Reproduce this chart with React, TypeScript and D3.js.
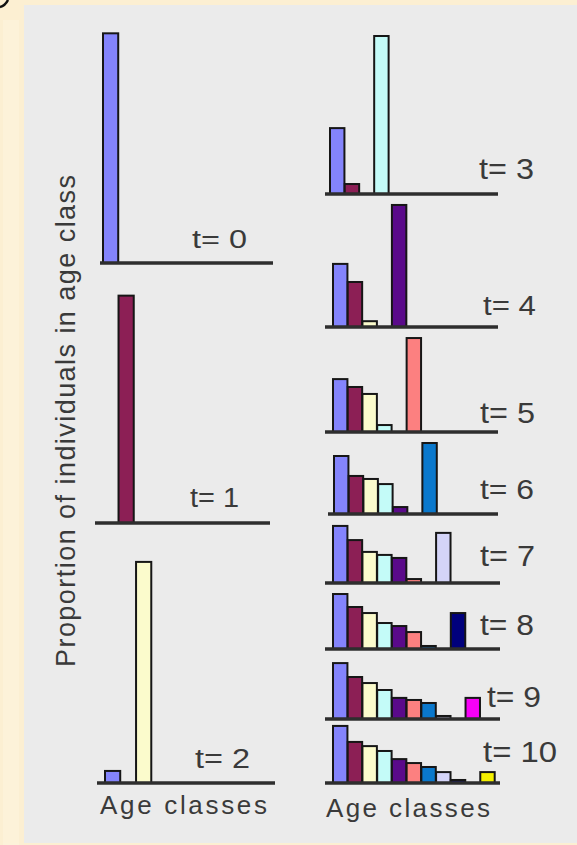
import * as d3 from "d3";

// Excel-style fill colours, one per age class (0..10)
const classColors = [
  "#8484fc", "#8c1f55", "#fbfbcc", "#c4fbf8", "#5a0a8a", "#fc8080",
  "#0a78cc", "#d4d4f8", "#00007c", "#f800f8", "#f4f000",
];

// proportion of individuals in each age class, per time step
const t0 = [0.99];
const t1 = [0, 0.98];
const t2 = [0.052, 0, 0.953];
const t3 = [0.284, 0.043, 0, 0.681];
const t4 = [0.272, 0.194, 0.025, 0, 0.526];
const t5 = [0.228, 0.194, 0.164, 0.03, 0, 0.405];
const t6 = [0.25, 0.164, 0.151, 0.129, 0.03, 0, 0.306];
const t7 = [0.246, 0.185, 0.134, 0.121, 0.108, 0.017, 0, 0.216];
const t8 = [0.237, 0.181, 0.155, 0.112, 0.099, 0.073, 0.013, 0, 0.155];
const t9 = [0.241, 0.181, 0.155, 0.125, 0.091, 0.082, 0.069, 0.013, 0, 0.091];
const t10 = [0.246, 0.177, 0.159, 0.138, 0.103, 0.086, 0.069, 0.047, 0.013, 0, 0.047];

const steps = [t0, t1, t2, t3, t4, t5, t6, t7, t8, t9, t10];
const stepLabels = steps.map((_, i) => `t= ${i}`);

const yTitle = "Proportion of individuals in age class";
const xTitle = "Age classes";

// where each small panel sits on the page
const panels = [
  { base: 263, x0: 103, step: 15.5, l1: 100, l2: 273, lx: 192, ly: 248, lw: 55, fs: 26 },
  { base: 523, x0: 103, step: 15.5, l1: 95, l2: 270, lx: 190, ly: 507, lw: 49, fs: 27 },
  { base: 783, x0: 105, step: 15.5, l1: 97, l2: 275, lx: 195, ly: 768, lw: 55, fs: 27 },
  { base: 194, x0: 330, step: 14.7, l1: 325, l2: 498, lx: 479, ly: 179, lw: 55, fs: 29 },
  { base: 327, x0: 333, step: 14.7, l1: 325, l2: 498, lx: 483, ly: 315, lw: 53, fs: 27 },
  { base: 432, x0: 333, step: 14.7, l1: 325, l2: 498, lx: 480, ly: 423, lw: 55, fs: 29 },
  { base: 514, x0: 334, step: 14.7, l1: 328, l2: 498, lx: 480, ly: 499, lw: 54, fs: 28 },
  { base: 583, x0: 333, step: 14.7, l1: 325, l2: 500, lx: 480, ly: 566, lw: 55, fs: 29 },
  { base: 649, x0: 333, step: 14.7, l1: 325, l2: 500, lx: 480, ly: 635, lw: 54, fs: 29 },
  { base: 719, x0: 333, step: 14.7, l1: 325, l2: 500, lx: 487, ly: 707, lw: 54, fs: 29 },
  { base: 783, x0: 333, step: 14.7, l1: 325, l2: 500, lx: 483, ly: 762, lw: 74, fs: 29 },
];

const W = 577;
const H = 845;
const font = "'Liberation Sans', Arial, sans-serif";
const ink = "#3a3a3a";

const barH = d3.scaleLinear().domain([0, 1]).range([0, 232]);

function Panel({ values, p, label }: { values: number[]; p: (typeof panels)[number]; label: string }) {
  const x = d3
    .scaleBand<number>()
    .domain(d3.range(11))
    .range([p.x0, p.x0 + 11 * p.step])
    .paddingInner(0.02)
    .paddingOuter(0);
  return (
    <g>
      {values.map((v, i) =>
        v > 0 ? (
          <rect
            key={i}
            x={x(i)}
            y={p.base - barH(v)}
            width={x.bandwidth()}
            height={barH(v)}
            fill={classColors[i]}
            stroke="#161616"
            strokeWidth={2}
          />
        ) : null
      )}
      <line x1={p.l1} x2={p.l2} y1={p.base} y2={p.base} stroke="#2e2e2e" strokeWidth={3.6} />
      <text
        x={p.lx}
        y={p.ly}
        fontSize={p.fs}
        fontFamily={font}
        fill={ink}
        textLength={p.lw}
        lengthAdjust="spacingAndGlyphs"
      >
        {label}
      </text>
    </g>
  );
}

export default function App() {
  return (
    <svg
      width={W}
      height={H}
      style={{ position: "absolute", left: 0, top: 0, display: "block" }}
    >
      <rect width={W} height={H} fill="#fcefd2" />
      <rect x={3} y={20} width={16} height={H - 20} fill="#fdf3dc" opacity={0.7} />
      <path d="M0,7 Q5,6 8,0" fill="none" stroke="#111" strokeWidth={2.5} />
      <rect x={24} y={5} width={W - 24} height={H - 7} fill="#ebebeb" />

      {steps.map((values, i) => (
        <Panel key={i} values={values} p={panels[i]} label={stepLabels[i]} />
      ))}

      <text
        transform="translate(75,421) rotate(-90)"
        textAnchor="middle"
        fontSize={27}
        fontFamily={font}
        fill={ink}
        textLength={492}
        lengthAdjust="spacing"
      >
        {yTitle}
      </text>
      <text x={100} y={814} fontSize={26} fontFamily={font} fill={ink} textLength={167} lengthAdjust="spacing">
        {xTitle}
      </text>
      <text x={326} y={817} fontSize={26} fontFamily={font} fill={ink} textLength={164} lengthAdjust="spacing">
        {xTitle}
      </text>
    </svg>
  );
}
